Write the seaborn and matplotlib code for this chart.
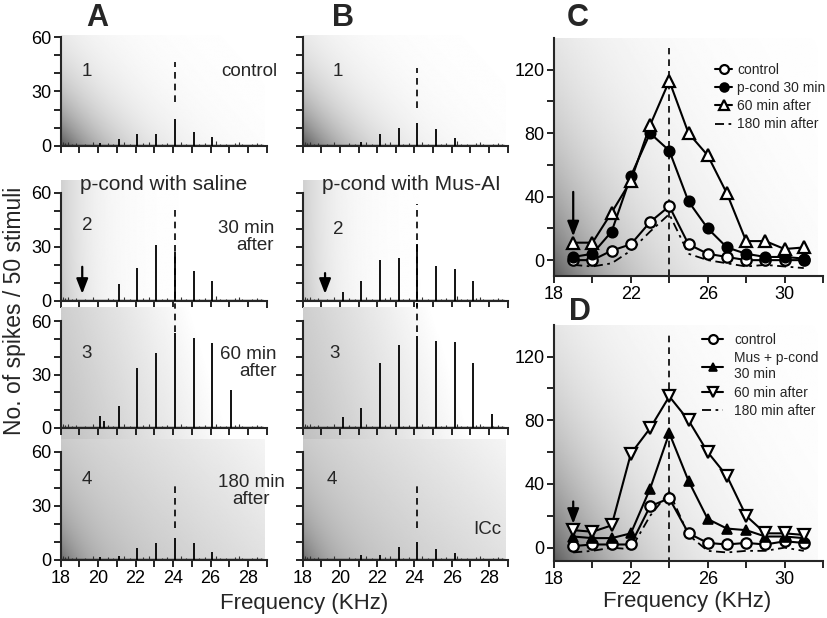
import numpy as np
import pandas as pd
import matplotlib
matplotlib.use("Agg")
import matplotlib.pyplot as plt
import seaborn as sns

sns.set_style("ticks")
plt.rcParams['font.family'] = ['Liberation Sans', 'DejaVu Sans']

# ---------------- data ----------------
# Panels A/B: spike-count peaks per tone frequency (kHz)
a_freq = [20.1, 20.3, 21.1, 22.1, 23.1, 24.1, 25.1, 26.1, 27.1]
a1_peaks = [1.5, 0.0, 3.7, 6.6, 6.6, 14.8, 7.5, 4.8, 0.0]
a2_peaks = [0.0, 0.0, 9.3, 18.4, 31.0, 27.4, 16.8, 11.2, 0.0]
a3_peaks = [6.5, 3.7, 12.5, 33.8, 42.2, 53.0, 50.6, 47.4, 21.4]
a4_peaks = [1.5, 0.0, 2.0, 6.8, 9.6, 12.5, 9.6, 4.2, 0.0]

b_freq = [20.15, 21.15, 22.15, 23.15, 24.15, 25.15, 26.15, 27.15, 28.15]
b1_peaks = [0.0, 2.0, 6.6, 9.7, 12.4, 9.3, 4.6, 0.0, 0.0]
b2_peaks = [5.2, 11.0, 23.0, 24.0, 31.7, 19.7, 17.5, 10.9, 0.0]
b3_peaks = [5.9, 11.4, 36.7, 46.5, 51.5, 48.7, 48.2, 36.3, 8.1]
b4_peaks = [0.0, 2.8, 2.8, 7.0, 9.8, 5.9, 3.7, 0.0, 0.0]

# small baseline activity between tones
blip_x = [18.1, 18.25, 18.4, 18.6, 18.8, 19.3, 19.7, 20.5, 20.8, 21.4, 21.7,
          22.4, 22.7, 23.4, 23.7, 24.4, 24.7, 25.4, 25.7, 26.3, 26.5, 26.8,
          27.3, 27.5, 27.7, 28.2, 28.5, 28.7]
blip_h = [2.0, 1.5, 2.0, 1.0, 1.5, 1.0, 2.0, 1.5, 1.0, 2.0, 1.0, 1.5, 2.0, 1.0,
          1.5, 2.0, 1.0, 1.0, 1.5, 2.5, 1.0, 1.0, 1.5, 2.0, 1.0, 1.0, 1.5, 1.0]

# Panels C/D: tuning curves
cd_freq = [19, 20, 21, 22, 23, 24, 25, 26, 27, 28, 29, 30, 31]
c_control = [0, 0, 6, 10, 24, 34, 10, 4, 2, 0, 0, 0, 0]
c_pcond30 = [2, 4, 18, 53, 80, 69, 37, 20, 8, 4, 2, 2, 1]
c_60min = [11, 11, 30, 50, 85, 113, 80, 66, 42, 12, 12, 7, 8]
c_180min = [-3, -4, -2, 6, 18, 29, 4, 0, -2, -4, -3, -4, -5]

d_control = [1, 2, 2, 2, 26, 31, 9, 3, 2, 3, 2, 4, 3]
d_mus30 = [7, 6, 6, 9, 37, 72, 42, 18, 12, 11, 7, 7, 6]
d_60min = [11, 10, 14, 59, 75, 95, 80, 60, 45, 20, 9, 9, 8]
d_180min = [-3, -2, 0, -1, 20, 35, 8, -2, -3, -2, -2, 0, -2]

# ---------------- layout helpers ----------------
W, H = 827, 618
fig = plt.figure(figsize=(W / 100, H / 100), dpi=100)


def add_ax(left, top, right, bottom):
    return fig.add_axes([left / W, 1 - bottom / H, (right - left) / W, (bottom - top) / H])


def gradient(ax, x0, x1, y0, y1, func):
    u = np.linspace(0, 1, 200)
    v = np.linspace(0, 1, 200)
    U, V = np.meshgrid(u, v)
    G = np.clip(func(U, V), 0, 1)
    ax.imshow(G, extent=(x0, x1, y0, y1), origin='lower', cmap='gray',
              vmin=0, vmax=1, aspect='auto', interpolation='bilinear', zorder=0)


def corner(u, v, a, b, k=0.65):
    return 1 - k * np.exp(-(u / a + v / b))


grad_row = [
    lambda u, v: corner(u, v, 0.25, 0.5),
    lambda u, v: 1 - 0.18 * np.exp(-u / 0.15) - 0.05 * np.exp(-(u / 0.1 + v / 0.3)),
    lambda u, v: 0.75 + 0.3 * u + 0.06 * v,
    lambda u, v: 0.73 + 0.15 * u + 0.08 * v - 0.3 * np.exp(-(u / 0.12 + v / 0.35)),
]

# rows: (pixel of 60, pixel of 0, ylo, yhi)
rows = [(37, 146, 0, 61), (193, 301, 0, 67), (321, 428, -7, 68), (452, 560, 0, 67)]
cols = [(60.7, 266.7), (302.7, 507.6)]

a_rows = [a1_peaks, a2_peaks, a3_peaks, a4_peaks]
b_rows = [b1_peaks, b2_peaks, b3_peaks, b4_peaks]
dash_a = [[(24, 46)], [(-5, 51)], [(54, 68)], [(18, 41)]]
dash_b = [[(21, 43)], [(-5, 54)], [(54, 70)], [(18, 41)]]

arrow_kw = dict(arrowstyle='-|>,head_width=0.35,head_length=0.9',
                color='black', lw=1.6, shrinkA=0, shrinkB=0)

for ci, (xl, xr) in enumerate(cols):
    freqs = a_freq if ci == 0 else b_freq
    peaks_all = a_rows if ci == 0 else b_rows
    dashes = dash_a if ci == 0 else dash_b
    dx = 24.1 if ci == 0 else 24.15
    for ri, (p60, p0, ylo, yhi) in enumerate(rows):
        s = (p0 - p60) / 60.0
        top = p0 - yhi * s
        bot = p0 - ylo * s
        ax = add_ax(xl, top, xr, bot)
        gradient(ax, 18, 28.85, ylo, yhi, grad_row[ri])
        ax.hlines(0.4, 18, 28.8, color='#222222', lw=1.0, zorder=2)
        ax.vlines(blip_x, 0, blip_h, color='#333333', lw=0.8, zorder=2)
        ax.vlines(freqs, 0, peaks_all[ri], color='black', lw=1.3, zorder=3)
        for (d0, d1) in dashes[ri]:
            ax.plot([dx, dx], [d0, d1], color='black', lw=1.2,
                    linestyle=(0, (4, 3)), clip_on=False, zorder=4)
        ax.set_xlim(18, 29)
        ax.set_ylim(ylo, yhi)
        for sp in ['top', 'right']:
            ax.spines[sp].set_visible(False)
        ax.spines['left'].set_bounds(0, 60)
        ax.spines['bottom'].set_bounds(18, 29)
        ax.spines['bottom'].set_position(('data', 0))
        for sp in ['left', 'bottom']:
            ax.spines[sp].set_linewidth(1.5)
        ax.set_yticks(range(0, 61, 10))
        if ci == 0:
            ax.set_yticklabels(['0', '', '', '30', '', '', '60'])
        else:
            ax.set_yticklabels([])
        ax.set_xticks(range(18, 30))
        if ri == 3:
            ax.set_xticklabels([str(t) if t % 2 == 0 else '' for t in range(18, 30)])
        else:
            ax.set_xticklabels([])
        ax.tick_params(direction='out', length=5, width=1.2, labelsize=13,
                       pad=2, colors='black')
        ax.patch.set_alpha(0)
        if ri == 1:
            xa = 19.15 if ci == 0 else 19.2
            ax.annotate('', xy=(xa, 4), xytext=(xa, 19 if ci == 0 else 15.5),
                        arrowprops=arrow_kw)

# ---------------- C / D ----------------
def tuning(ax, ctrl, s30, s60, s180, m30, m60, labels, leg_anchor, hl, htp, arrow_top):
    sns.lineplot(x=cd_freq, y=s180, ax=ax, color='black', lw=1.3,
                 linestyle=(0, (5, 2.5, 1.5, 2.5)), zorder=3, label=labels[3])
    sns.lineplot(x=cd_freq, y=ctrl, ax=ax, color='black', lw=1.5, marker='o',
                 ms=7.5, markerfacecolor='white', markeredgecolor='black', mew=1.6,
                 zorder=4, label=labels[0])
    sns.lineplot(x=cd_freq, y=s30, ax=ax, color='black', lw=1.5, marker=m30,
                 ms=7.5, markerfacecolor='black', markeredgecolor='black', mew=1.2,
                 zorder=4, label=labels[1])
    sns.lineplot(x=cd_freq, y=s60, ax=ax, color='black', lw=1.5, marker=m60,
                 ms=9, markerfacecolor='white', markeredgecolor='black', mew=1.6,
                 zorder=5, label=labels[2])
    h, l = ax.get_legend_handles_labels()
    order = [1, 2, 3, 0]
    ax.legend([h[i] for i in order], [l[i] for i in order], loc='upper left',
              bbox_to_anchor=leg_anchor, frameon=False, fontsize=10,
              handlelength=hl, handletextpad=htp, labelspacing=0.3,
              borderaxespad=0, borderpad=0, markerscale=0.85)
    ax.plot([24, 24], [-10, 134], color='black', lw=1.2, linestyle=(0, (4, 3)), zorder=2)
    ax.set_xlim(18, 32)
    for sp in ['top', 'right']:
        ax.spines[sp].set_visible(False)
    for sp in ['left', 'bottom']:
        ax.spines[sp].set_linewidth(1.5)
    ax.set_yticks(range(0, 121, 20))
    ax.set_yticklabels(['0', '', '40', '', '80', '', '120'])
    ax.set_xticks(range(18, 33, 2))
    ax.set_xticklabels(['18', '', '22', '', '26', '', '30', ''])
    ax.tick_params(direction='out', length=5, width=1.2, labelsize=13, pad=2,
                   colors='black')
    ax.set_xlabel('')
    ax.set_ylabel('')
    ax.patch.set_alpha(0)
    ax.annotate('', xy=(19, 15), xytext=(19, arrow_top), arrowprops=arrow_kw)


axC = add_ax(554, 38, 823, 276)
gradient(axC, 18, 31.7, -10, 140, lambda u, v: corner(u, v, 0.3, 0.55, 0.63))
axC.set_ylim(-10, 140)
tuning(axC, c_control, c_pcond30, c_60min, c_180min, 'o', '^',
       ['control', 'p-cond 30 min', '60 min after', '180 min after'],
       (0.6, 0.895), 1.2, 0.35, 43)

axD = add_ax(554, 324.8, 823, 561.2)
gradient(axD, 18, 31.7, -8.5, 140, lambda u, v: corner(u, v, 0.3, 0.55, 0.63))
axD.set_ylim(-8.5, 140)
tuning(axD, d_control, d_mus30, d_60min, d_180min, '^', 'v',
       ['control', 'Mus + p-cond\n30 min', '60 min after', '180 min after'],
       (0.55, 0.965), 1.55, 0.75, 29)

# ---------------- texts ----------------
def t(x, y, s, **kw):
    fig.text(x / W, 1 - y / H, s, **kw)


for x, y, s in [(97, 18, 'A'), (343, 18, 'B'), (578, 18, 'C'), (580, 312, 'D')]:
    t(x, y, s, fontsize=22, fontweight='bold', ha='center', va='center')

for x, y, s in [(87, 72, '1'), (87, 226, '2'), (87, 353, '3'), (87, 480, '4'),
                (338, 72, '1'), (338, 230, '2'), (335, 353, '3'), (332, 479, '4')]:
    t(x, y, s, fontsize=13.5, ha='center', va='center')

t(277, 72, 'control', fontsize=13.5, ha='right', va='center')
t(274, 237, '30 min\nafter', fontsize=13.5, ha='right', va='center',
  multialignment='right', linespacing=1.05)
t(277, 363, '60 min\nafter', fontsize=13.5, ha='right', va='center',
  multialignment='right', linespacing=1.05)
t(251, 491, '180 min\nafter', fontsize=13.5, ha='center', va='center',
  multialignment='center', linespacing=1.05)
t(164, 185, 'p-cond with saline', fontsize=15, ha='center', va='center')
t(411, 185, 'p-cond with Mus-AI', fontsize=15, ha='center', va='center')
t(487, 530, 'ICc', fontsize=13.5, ha='center', va='center')

t(15, 311, 'No. of spikes / 50 stimuli', fontsize=16.5, ha='center', va='center',
  rotation=90)
t(304, 603, 'Frequency (KHz)', fontsize=16, ha='center', va='center')
t(687, 602, 'Frequency (KHz)', fontsize=16, ha='center', va='center')

fig.savefig('out.png', dpi=100)
